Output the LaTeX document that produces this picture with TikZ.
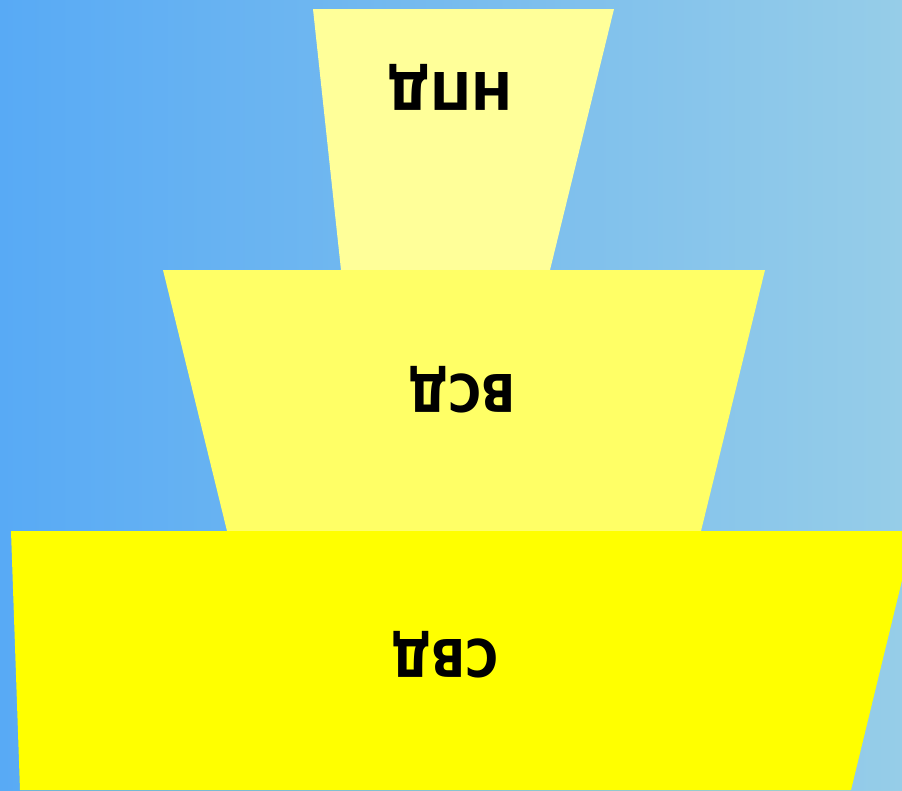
\documentclass[tikz,border=0pt]{standalone}
\usepackage{fontspec}
\setmainfont{DejaVu Sans}
\definecolor{bgl}{RGB}{88,170,245}
\definecolor{bgr}{RGB}{150,205,232}
\definecolor{ytop}{RGB}{255,255,153}
\definecolor{ymid}{RGB}{255,255,102}
\definecolor{ybot}{RGB}{255,255,0}
\tikzset{lvl/.style={draw=none}, lab/.style={font=\bfseries\fontsize{52}{60}\selectfont, rotate=180, inner sep=0pt}}
\begin{document}
\begin{tikzpicture}[x=1pt,y=-1pt]
\useasboundingbox (0,0) rectangle (902,790);
\shade[left color=bgl, right color=bgr] (0,0) rectangle (902,790);
\begin{scope}
\clip (0,0) rectangle (902,790);
\fill[ytop,lvl] (313,9) -- (614,9) -- (550,270) -- (341,270) -- cycle;
\fill[ymid,lvl] (163,270) -- (765,270) -- (701,531) -- (227,531) -- cycle;
\fill[ybot,lvl] (11,531) -- (914,531) -- (851,790) -- (20,790) -- cycle;
\end{scope}
\node[lab, xscale=0.94] (n1) at (450,87) {НПД};
\node[lab, xscale=0.87] (n2) at (462,390) {ВСД};
\node[lab, xscale=0.87] (n3) at (445,655) {СВД};
\end{tikzpicture}
\end{document}
